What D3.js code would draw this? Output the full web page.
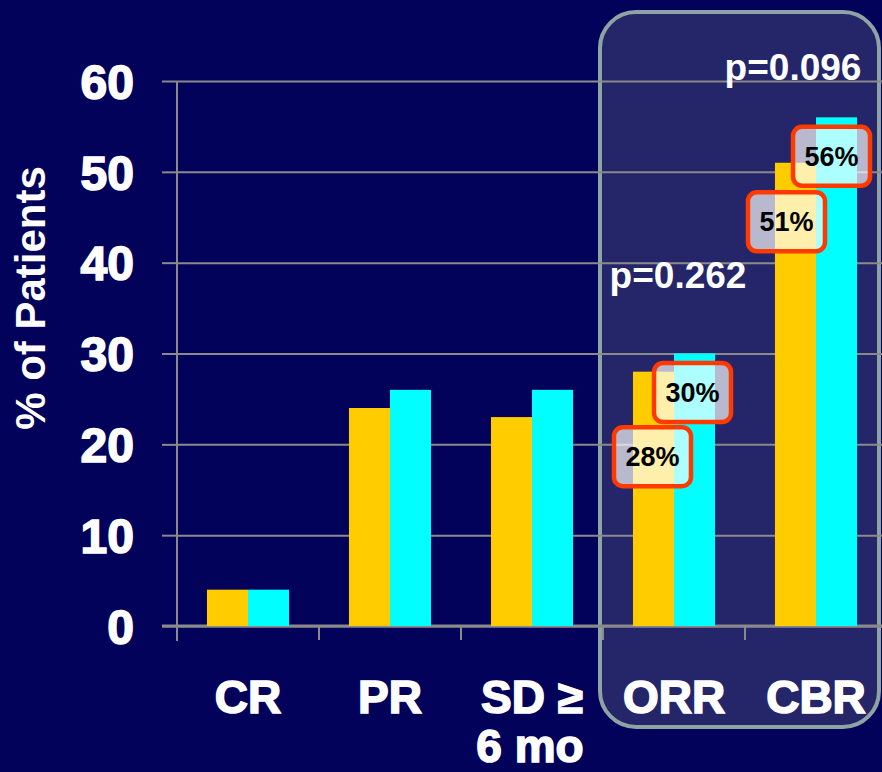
<!DOCTYPE html>
<html>
<head>
<meta charset="utf-8">
<script src="https://cdn.jsdelivr.net/npm/d3@7"></script>
<style>
  html, body { margin: 0; padding: 0; background: #02025a; }
  svg { display: block; }
</style>
</head>
<body>
<svg id="chart" width="882" height="772"></svg>
<script>
// Response categories (second line of a label after "|")
const categories = ["CR", "PR", "SD ≥|6 mo", "ORR", "CBR"];
// Two treatment arms, % of patients
const seriesNames = ["Arm A", "Arm B"];
const armA = [4, 24, 23, 28, 51];
const armB = [4, 26, 26, 30, 56];
const yTicks = [0, 10, 20, 30, 40, 50, 60];
// Highlighted values with their callouts (category, arm index)
const callouts = [
  { cat: "ORR", arm: 0, dx: -1, dy: 85 },
  { cat: "ORR", arm: 1, dx: -2, dy: 39 },
  { cat: "CBR", arm: 0, dx: -9, dy: 59 },
  { cat: "CBR", arm: 1, dx: -5, dy: 39 }
];
const pValues = [
  { cat: "ORR", text: "p=0.262" },
  { cat: "CBR", text: "p=0.096" }
];

const colors = ["#ffcc00", "#00ffff"];
const gridColor = "#8a8a8a";
const svg = d3.select("#chart");

const plotLeft = 177, plotTop = 81, plotBottom = 626;
const step = 142;
const x0 = d3.scaleBand().domain(categories).range([plotLeft, plotLeft + step * categories.length]).padding(0);
const x1 = d3.scaleBand().domain(seriesNames).range([0, x0.bandwidth()]).paddingInner(0).paddingOuter(0.73);
const y = d3.scaleLinear().domain([0, 60]).range([plotBottom, plotTop]);

// background
svg.append("rect").attr("width", 882).attr("height", 772).attr("fill", "#02025a");

// highlight panel around ORR / CBR
svg.append("rect")
  .attr("x", 600).attr("y", 12).attr("width", 279).attr("height", 715)
  .attr("rx", 36).attr("ry", 36)
  .attr("fill", "#25256a").attr("stroke", "#8ea3a3").attr("stroke-width", 4);

// horizontal grid lines
const grid = svg.append("g").attr("transform", `translate(${plotLeft},0)`)
  .call(d3.axisRight(y).tickValues(yTicks).tickSize(882 - plotLeft).tickFormat(""));
grid.select(".domain").remove();
grid.selectAll(".tick line").attr("stroke", gridColor).attr("stroke-width", 2);

// y axis with outer ticks and labels
const yAxis = svg.append("g").attr("transform", `translate(${plotLeft},0)`)
  .call(d3.axisLeft(y).tickValues(yTicks).tickSize(15).tickPadding(28).tickFormat(d3.format("d")));
yAxis.select(".domain").remove();
yAxis.selectAll(".tick line").attr("stroke", gridColor).attr("stroke-width", 2);
yAxis.selectAll(".tick text")
  .attr("fill", "#fff").attr("stroke", "#fff").attr("stroke-width", 1.6)
  .attr("font-family", "Liberation Sans, Arial, sans-serif")
  .attr("font-weight", "bold").attr("font-size", 48)
  .attr("dy", "0.36em");
svg.append("line")
  .attr("x1", plotLeft).attr("x2", plotLeft).attr("y1", y(60)).attr("y2", plotBottom + 15)
  .attr("stroke", gridColor).attr("stroke-width", 2);

// x axis: ticks at category boundaries
const xAxis = svg.append("g").attr("transform", `translate(0,${plotBottom})`)
  .call(d3.axisBottom(x0).tickSize(14).tickFormat(""));
xAxis.select(".domain").remove();
xAxis.selectAll(".tick").attr("transform", d => `translate(${x0(d)},0)`);
xAxis.selectAll(".tick line").attr("stroke", gridColor).attr("stroke-width", 2);
svg.append("line")
  .attr("x1", plotLeft - 15).attr("x2", 882).attr("y1", plotBottom).attr("y2", plotBottom)
  .attr("stroke", gridColor).attr("stroke-width", 3);

// bars
const rows = categories.map((c, i) => ({ cat: c, vals: [armA[i], armB[i]] }));
const groups = svg.append("g").selectAll("g").data(rows).join("g")
  .attr("transform", d => `translate(${x0(d.cat)},0)`);
groups.selectAll("rect")
  .data(d => d.vals.map((v, k) => ({ name: seriesNames[k], v, k })))
  .join("rect")
  .attr("x", d => x1(d.name))
  .attr("width", x1.bandwidth())
  .attr("y", d => y(d.v))
  .attr("height", d => y(0) - y(d.v))
  .attr("fill", d => colors[d.k]);

// category labels
const catLabels = svg.append("g").selectAll("text").data(categories).join("text")
  .attr("x", d => x0(d) + x0.bandwidth() / 2)
  .attr("y", 713)
  .attr("text-anchor", "middle")
  .attr("fill", "#fff").attr("stroke", "#fff").attr("stroke-width", 1.6)
  .attr("font-family", "Liberation Sans, Arial, sans-serif")
  .attr("font-weight", "bold").attr("font-size", 46);
catLabels.each(function (d) {
  const parts = d.split("|");
  const t = d3.select(this);
  parts.forEach((p, i) => {
    t.append("tspan").attr("x", x0(d) + x0.bandwidth() / 2 - (i ? 2 : 0))
      .attr("dy", i ? 49 : 0).text(p);
  });
});

// y axis title
svg.append("text")
  .attr("transform", `translate(45,298) rotate(-90)`)
  .attr("text-anchor", "middle")
  .attr("fill", "#fff")
  .attr("font-family", "Liberation Sans, Arial, sans-serif")
  .attr("font-weight", "bold").attr("font-size", 42)
  .text("% of Patients");

// p-values, placed above the taller bar of each pair
const pOffset = { ORR: { dx: 4, dy: -66 }, CBR: { dx: -23, dy: -37 } };
svg.append("g").selectAll("text").data(pValues).join("text")
  .attr("x", d => x0(d.cat) + x0.bandwidth() / 2 + pOffset[d.cat].dx)
  .attr("y", d => {
    const i = categories.indexOf(d.cat);
    return y(Math.max(armA[i], armB[i])) + pOffset[d.cat].dy;
  })
  .attr("text-anchor", "middle")
  .attr("fill", "#fff")
  .attr("font-family", "Liberation Sans, Arial, sans-serif")
  .attr("font-weight", "bold").attr("font-size", 37)
  .text(d => d.text);

// value callouts
const bw = 77, bh = 59;
const cg = svg.append("g").selectAll("g").data(callouts).join("g")
  .attr("transform", d => {
    const i = categories.indexOf(d.cat);
    const v = d.arm ? armB[i] : armA[i];
    const cx = x0(d.cat) + x1(seriesNames[d.arm]) + x1.bandwidth() / 2 + d.dx;
    const cy = y(v) + d.dy;
    return `translate(${cx},${cy})`;
  });
cg.append("rect")
  .attr("x", -bw / 2).attr("y", -bh / 2).attr("width", bw).attr("height", bh)
  .attr("rx", 9).attr("ry", 9)
  .attr("fill", "rgba(255,255,255,0.68)")
  .attr("stroke", "#ff3a00").attr("stroke-width", 4.5);
cg.append("text")
  .attr("text-anchor", "middle").attr("dy", "0.36em")
  .attr("fill", "#000")
  .attr("font-family", "Liberation Sans, Arial, sans-serif")
  .attr("font-weight", "bold").attr("font-size", 27)
  .text(d => {
    const i = categories.indexOf(d.cat);
    return (d.arm ? armB[i] : armA[i]) + "%";
  });
</script>
</body>
</html>
